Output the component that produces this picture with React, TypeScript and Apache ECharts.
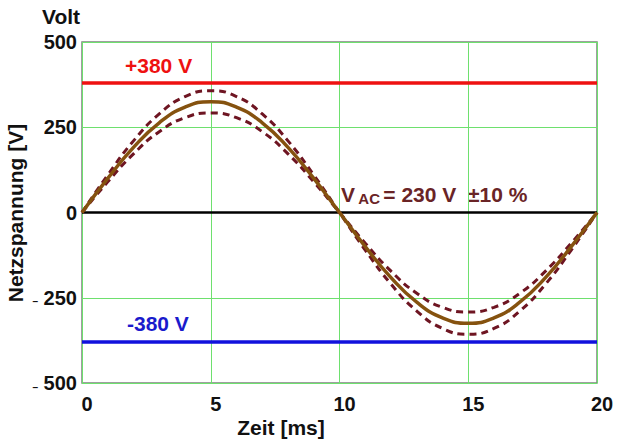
import React, { useEffect, useRef } from "react";
import * as echarts from "echarts";

// time in ms
const timeMs = [0, 1, 2, 3, 4, 5, 6, 7, 8, 9, 10, 11, 12, 13, 14, 15, 16, 17, 18, 19, 20];
// nominal 230 V AC (peak ~325 V)
const nominal = [0, 100, 191, 263, 309, 325, 309, 263, 191, 100, 0, -100, -191, -263, -309, -325, -309, -263, -191, -100, 0];
// +10 %
const upper = [0, 110, 210, 289, 340, 357, 340, 289, 210, 110, 0, -110, -210, -289, -340, -357, -340, -289, -210, -110, 0];
// -10 %
const lower = [0, 90, 172, 237, 278, 292, 278, 237, 172, 90, 0, -90, -172, -237, -278, -292, -278, -237, -172, -90, 0];
const limitHigh = 380;
const limitLow = -380;
const xTicks = [0, 5, 10, 15, 20];
const yTicks = [-500, -250, 0, 250, 500];

const FONT = "'Liberation Sans', Arial, sans-serif";

export default function App() {
  const ref = useRef<HTMLDivElement>(null);
  useEffect(() => {
    if (!ref.current) return;
    const chart = echarts.init(ref.current, null, { renderer: "svg" });
    const pair = (ys: number[]) => timeMs.map((t, i) => [t, ys[i]]);
    const hline = (v: number) => [[xTicks[0], v], [xTicks[xTicks.length - 1], v]];
    chart.setOption({
      animation: false,
      backgroundColor: "#ffffff",
      grid: { left: 82, top: 42, right: 20, bottom: 56, show: true, borderColor: "#808080", borderWidth: 1.5 },
      xAxis: {
        type: "value",
        min: 0,
        max: 20,
        interval: 5,
        axisLine: { show: false },
        axisTick: { show: false },
        splitLine: { show: true, lineStyle: { color: "#6ee06e", width: 1 } },
        axisLabel: {
          fontFamily: FONT,
          fontWeight: "bold",
          fontSize: 20,
          color: "#111",
          margin: 11,
          padding: [0, 0, 0, 10],
          formatter: (v: number) => (xTicks.includes(v) ? String(v) : ""),
        },
      },
      yAxis: {
        type: "value",
        min: -500,
        max: 500,
        interval: 250,
        axisLine: { show: false },
        axisTick: { show: false },
        splitLine: { show: true, lineStyle: { color: "#6ee06e", width: 1 } },
        axisLabel: {
          fontFamily: FONT,
          fontWeight: "bold",
          fontSize: 20,
          color: "#111",
          margin: 5,
          formatter: (v: number) => {
            if (!yTicks.includes(v)) return "";
            return v < 0 ? "{m|–} " + Math.abs(v) : String(v);
          },
          rich: {
            m: { fontSize: 10, fontFamily: FONT, color: "#111", padding: [8, 0, 0, 0] },
          },
        },
      },
      series: [
        {
          type: "line",
          data: hline(0),
          symbol: "none",
          lineStyle: { color: "#000000", width: 2.5 },
          z: 3,
        },
        {
          type: "line",
          data: hline(limitHigh),
          symbol: "none",
          lineStyle: { color: "#ee1111", width: 3.5 },
          z: 3,
        },
        {
          type: "line",
          data: hline(limitLow),
          symbol: "none",
          lineStyle: { color: "#1111dd", width: 3.5 },
          z: 3,
        },
        {
          type: "line",
          data: pair(upper),
          smooth: true,
          symbol: "none",
          lineStyle: { color: "#6e1522", width: 3, type: [7, 5] },
          z: 4,
        },
        {
          type: "line",
          data: pair(lower),
          smooth: true,
          symbol: "none",
          lineStyle: { color: "#6e1522", width: 3, type: [7, 5] },
          z: 4,
        },
        {
          type: "line",
          data: pair(nominal),
          smooth: true,
          symbol: "none",
          lineStyle: { color: "#85520f", width: 3.5 },
          z: 5,
        },
      ],
      graphic: [
        {
          type: "text",
          x: 42,
          y: 16,
          style: { text: "Volt", font: `bold 21px ${FONT}`, fill: "#111", verticalAlign: "middle" },
        },
        {
          type: "text",
          x: 15,
          y: 213,
          rotation: Math.PI / 2,
          style: { text: "Netzspannung [V]", font: `bold 21px ${FONT}`, fill: "#111", align: "center", verticalAlign: "middle" },
        },
        {
          type: "text",
          x: 281,
          y: 427,
          style: { text: "Zeit [ms]", font: `bold 21px ${FONT}`, fill: "#111", align: "center", verticalAlign: "middle" },
        },
        {
          type: "text",
          x: 125,
          y: 65,
          style: { text: "+380 V", font: `bold 21px ${FONT}`, fill: "#ee1111", verticalAlign: "middle" },
        },
        {
          type: "text",
          x: 127,
          y: 323,
          style: { text: "-380 V", font: `bold 21px ${FONT}`, fill: "#1a1acc", verticalAlign: "middle" },
        },
        {
          type: "text",
          x: 341,
          y: 194,
          style: {
            text: "{a|V} {b|AC} {a|= 230 V  ±10 %}",
            verticalAlign: "middle",
            rich: {
              a: { font: `bold 21px ${FONT}`, fill: "#6a2426", color: "#6a2426" },
              b: { font: `bold 15px ${FONT}`, fill: "#6a2426", color: "#6a2426", padding: [8, 0, 0, 0] },
            },
          },
        },
      ],
    });
    return () => chart.dispose();
  }, []);
  return <div ref={ref} style={{ position: "fixed", left: 0, top: 0, width: 617, height: 439 }} />;
}
